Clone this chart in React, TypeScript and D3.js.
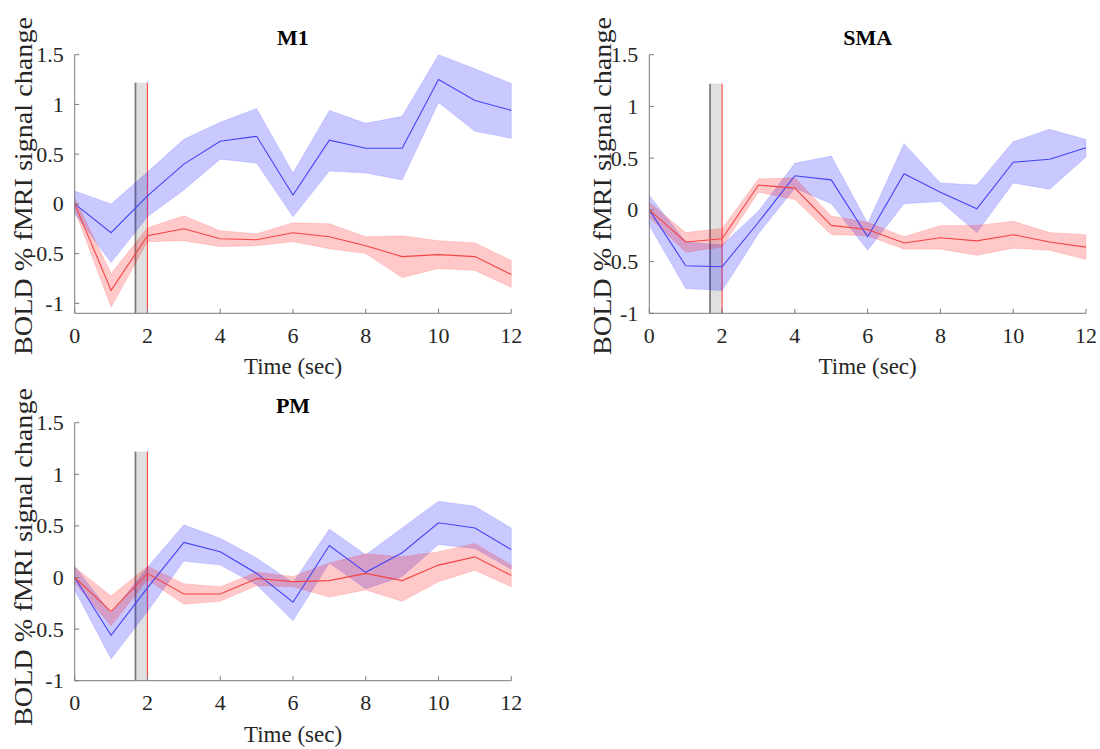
import React from "react";
import * as d3 from "d3";

// Time samples (sec)
const time = [0, 1, 2, 3, 4, 5, 6, 7, 8, 9, 10, 11, 12];
const xTicks = [0, 2, 4, 6, 8, 10, 12];
const yTicks = [-1, -0.5, 0, 0.5, 1, 1.5];
const yTickLabels = ["-1", "-0.5", "0", "0.5", "1", "1.5"];

// M1
const m1BlueMean = [0, -0.29, 0.08, 0.4, 0.63, 0.68, 0.09, 0.64, 0.56, 0.56, 1.25, 1.04, 0.94];
const m1BlueUpper = [0.13, 0.0, 0.32, 0.65, 0.82, 0.96, 0.31, 0.94, 0.81, 0.88, 1.5, 1.36, 1.21];
const m1BlueLower = [-0.1, -0.59, -0.13, 0.14, 0.45, 0.41, -0.13, 0.33, 0.31, 0.24, 1.02, 0.73, 0.66];
const m1RedMean = [0, -0.87, -0.32, -0.25, -0.35, -0.36, -0.29, -0.33, -0.42, -0.53, -0.51, -0.53, -0.71];
const m1RedUpper = [0.06, -0.7, -0.24, -0.12, -0.27, -0.3, -0.19, -0.2, -0.33, -0.32, -0.37, -0.39, -0.57];
const m1RedLower = [-0.06, -1.04, -0.38, -0.37, -0.43, -0.42, -0.38, -0.45, -0.5, -0.74, -0.65, -0.67, -0.84];

// SMA
const smaBlueMean = [0, -0.54, -0.55, -0.12, 0.33, 0.29, -0.26, 0.35, 0.17, 0.01, 0.46, 0.49, 0.6];
const smaBlueUpper = [0.14, -0.31, -0.34, -0.01, 0.45, 0.52, -0.13, 0.64, 0.26, 0.24, 0.66, 0.78, 0.68];
const smaBlueLower = [-0.15, -0.76, -0.78, -0.23, 0.21, 0.06, -0.39, 0.06, 0.08, -0.22, 0.26, 0.2, 0.51];
const smaRedMean = [0, -0.31, -0.28, 0.24, 0.21, -0.15, -0.19, -0.32, -0.27, -0.3, -0.24, -0.31, -0.36];
const smaRedUpper = [0.07, -0.22, -0.18, 0.3, 0.31, -0.06, -0.12, -0.26, -0.15, -0.15, -0.11, -0.22, -0.24];
const smaRedLower = [-0.07, -0.41, -0.36, 0.17, 0.1, -0.24, -0.25, -0.38, -0.38, -0.44, -0.37, -0.39, -0.48];

// PM
const pmBlueMean = [0, -0.56, -0.1, 0.34, 0.25, 0.04, -0.24, 0.31, 0.05, 0.24, 0.53, 0.48, 0.27];
const pmBlueUpper = [0.11, -0.35, 0.1, 0.51, 0.38, 0.19, -0.05, 0.47, 0.22, 0.48, 0.74, 0.69, 0.48];
const pmBlueLower = [-0.12, -0.79, -0.33, 0.16, 0.12, -0.07, -0.42, 0.14, -0.11, 0.01, 0.32, 0.28, 0.08];
const pmRedMean = [0, -0.33, 0.04, -0.16, -0.16, -0.01, -0.04, -0.03, 0.04, -0.03, 0.12, 0.2, 0.02];
const pmRedUpper = [0.1, -0.18, 0.11, -0.06, -0.09, 0.05, 0.01, 0.14, 0.23, 0.2, 0.25, 0.33, 0.12];
const pmRedLower = [-0.05, -0.47, -0.02, -0.26, -0.23, -0.08, -0.09, -0.19, -0.12, -0.23, -0.04, 0.07, -0.09];

// Stimulus window (sec) and its height
const stimStart = 1.67;
const stimEnd = 2;
const stimTop = 1.22;

const BLUE = "#0000ff";
const RED = "#ff0000";
const FONT = "'Liberation Serif', 'Times New Roman', serif";

type Panel = {
  title: string;
  left: number;
  right: number;
  top: number;
  bottom: number;
  yMin: number;
  labelX: number;
  labelY: number;
  blue: { mean: number[]; upper: number[]; lower: number[] };
  red: { mean: number[]; upper: number[]; lower: number[] };
};

const panels: Panel[] = [
  {
    title: "M1", left: 74.7, right: 511.3, top: 54.7, bottom: 313.3, yMin: -1.1, labelX: 32, labelY: 186,
    blue: { mean: m1BlueMean, upper: m1BlueUpper, lower: m1BlueLower },
    red: { mean: m1RedMean, upper: m1RedUpper, lower: m1RedLower },
  },
  {
    title: "SMA", left: 649.3, right: 1086, top: 54.7, bottom: 313.3, yMin: -1, labelX: 611, labelY: 186,
    blue: { mean: smaBlueMean, upper: smaBlueUpper, lower: smaBlueLower },
    red: { mean: smaRedMean, upper: smaRedUpper, lower: smaRedLower },
  },
  {
    title: "PM", left: 74.7, right: 511.3, top: 422.7, bottom: 680.7, yMin: -1, labelX: 32, labelY: 557,
    blue: { mean: pmBlueMean, upper: pmBlueUpper, lower: pmBlueLower },
    red: { mean: pmRedMean, upper: pmRedUpper, lower: pmRedLower },
  },
];

function ChartPanel({ p }: { p: Panel }) {
  const x = d3.scaleLinear().domain([0, 12]).range([p.left, p.right]);
  const y = d3.scaleLinear().domain([p.yMin, 1.5]).range([p.bottom, p.top]);

  const band = (upper: number[], lower: number[]) =>
    d3.area<number>()
      .x((t) => x(t))
      .y0((_, i) => y(lower[i]))
      .y1((_, i) => y(upper[i]))(time) || "";
  const line = (vals: number[]) =>
    d3.line<number>()
      .x((t) => x(t))
      .y((_, i) => y(vals[i]))(time) || "";

  const axisColor = "#7a7a7a";
  const tickLen = 4.5;

  return (
    <g>
      {/* stimulus window */}
      <rect
        x={x(stimStart)}
        y={y(stimTop)}
        width={x(stimEnd) - x(stimStart)}
        height={y(p.yMin) - y(stimTop)}
        fill="#e0e0e0"
      />
      <line x1={x(stimStart)} x2={x(stimStart)} y1={y(stimTop)} y2={y(p.yMin)} stroke="#7d7d7d" strokeWidth={1.8} />
      <line x1={x(stimEnd)} x2={x(stimEnd)} y1={y(stimTop)} y2={y(p.yMin)} stroke="#ff5050" strokeWidth={1.2} />

      {/* confidence bands */}
      <path d={band(p.blue.upper, p.blue.lower)} fill={BLUE} fillOpacity={0.21} stroke={BLUE} strokeOpacity={0.12} strokeWidth={1} />
      <path d={band(p.red.upper, p.red.lower)} fill={RED} fillOpacity={0.21} stroke={RED} strokeOpacity={0.12} strokeWidth={1} />

      {/* mean time courses */}
      <path d={line(p.blue.mean)} fill="none" stroke="#4444f4" strokeWidth={1.1} />
      <path d={line(p.red.mean)} fill="none" stroke="#f44444" strokeWidth={1.1} />

      {/* axes */}
      <line x1={p.left} x2={p.right} y1={p.bottom} y2={p.bottom} stroke={axisColor} strokeWidth={1} />
      <line x1={p.left} x2={p.left} y1={p.top} y2={p.bottom} stroke={axisColor} strokeWidth={1} />
      {xTicks.map((t) => (
        <g key={"x" + t}>
          <line x1={x(t)} x2={x(t)} y1={p.bottom} y2={p.bottom - tickLen} stroke={axisColor} strokeWidth={1} />
          <text x={x(t)} y={p.bottom + 22} textAnchor="middle" dominantBaseline="central" fontSize={22} fill="#262626" fontFamily={FONT}>
            {t}
          </text>
        </g>
      ))}
      {yTicks.map((v, i) => (
        <g key={"y" + v}>
          <line x1={p.left} x2={p.left + tickLen} y1={y(v)} y2={y(v)} stroke={axisColor} strokeWidth={1} />
          <text x={p.left - 11} y={y(v)} textAnchor="end" dominantBaseline="central" fontSize={22} fill="#262626" fontFamily={FONT}>
            {yTickLabels[i]}
          </text>
        </g>
      ))}

      {/* labels */}
      <text x={(p.left + p.right) / 2} y={p.top - 10} textAnchor="middle" fontSize={22} fontWeight="bold" fill="#000" fontFamily={FONT}>
        {p.title}
      </text>
      <text x={(p.left + p.right) / 2} y={p.bottom + 61} textAnchor="middle" fontSize={23} fill="#262626" fontFamily={FONT}>
        Time (sec)
      </text>
      <text
        transform={`translate(${p.labelX},${p.labelY}) rotate(-90)`}
        textAnchor="middle"
        fontSize={26}
        fill="#262626"
        fontFamily={FONT}
        textLength={338}
        lengthAdjust="spacingAndGlyphs"
      >
        BOLD % fMRI signal change
      </text>
    </g>
  );
}

export default function App() {
  return (
    <svg width={1100} height={749} style={{ position: "absolute", left: 0, top: 0, background: "#fff" }}>
      <rect width={1100} height={749} fill="#fff" />
      {panels.map((p) => (
        <ChartPanel key={p.title} p={p} />
      ))}
    </svg>
  );
}
